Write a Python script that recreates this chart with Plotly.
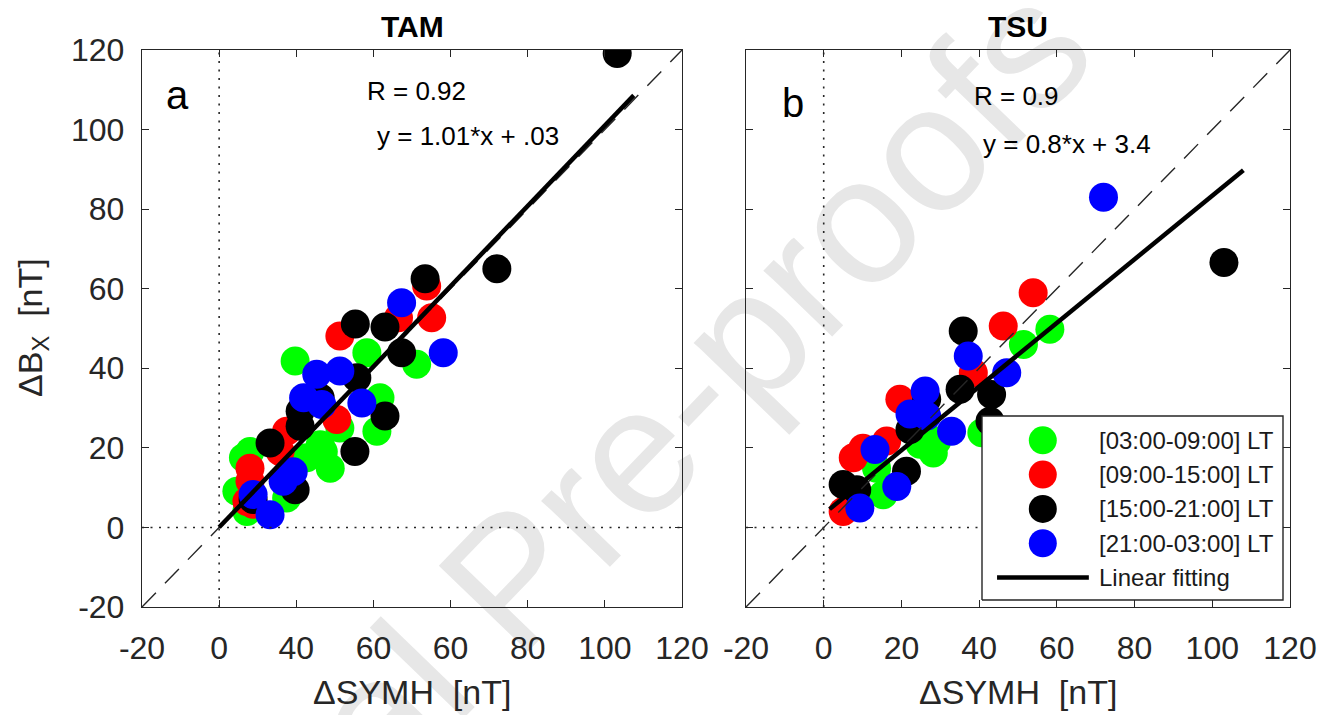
import plotly.graph_objects as go

FONT = "Liberation Sans, Arial, sans-serif"
INK = "#262626"
W, H = 1336, 715

# ---------------- data ----------------
# Panel a : TAM
tam_green_x = [19.7, 38.3, 51.2, 41.7, 40.9, 28.8, 26.2, 22.7, 8.0, 6.3, 4.6, 7.2, 17.5, 31.3, 27.0]
tam_green_y = [41.8, 43.9, 41.0, 32.6, 24.2, 14.9, 20.8, 17.5, 19.1, 17.5, 9.1, 4.0, 7.4, 25.0, 19.0]
tam_red_x = [53.8, 55.1, 46.5, 31.3, 30.5, 15.8, 8.0, 8.0, 7.2, 8.8, 17.5]
tam_red_y = [60.7, 52.7, 52.7, 48.1, 27.1, 19.1, 14.9, 11.6, 6.5, 5.8, 24.2]
tam_black_x = [103.2, 72.0, 53.4, 35.3, 43.0, 47.3, 35.7, 26.2, 21.0, 21.0, 43.0, 35.2, 13.2, 19.7, 8.8]
tam_black_y = [119.1, 65.0, 62.5, 51.1, 50.4, 43.9, 37.6, 32.6, 29.2, 25.4, 28.0, 19.1, 21.2, 9.5, 7.0]
tam_blue_x = [47.3, 58.1, 25.3, 31.3, 21.9, 26.6, 37.0, 16.6, 13.2, 8.8, 19.2]
tam_blue_y = [56.5, 43.9, 38.5, 39.3, 32.6, 30.9, 31.3, 11.6, 3.2, 8.3, 14.0]

# Panel b : TSU
tsu_green_x = [58.2, 51.4, 40.7, 28.2, 29.1, 24.8, 15.3, 13.6]
tsu_green_y = [49.8, 46.0, 23.8, 18.7, 21.7, 20.9, 8.2, 14.9]
tsu_red_x = [53.9, 46.2, 38.5, 19.6, 16.2, 7.6, 5.0, 10.1]
tsu_red_y = [59.0, 50.6, 38.9, 32.2, 21.7, 17.5, 4.0, 19.9]
tsu_black_x = [103.0, 35.9, 35.1, 43.2, 42.8, 26.5, 22.2, 21.3, 5.0, 8.5]
tsu_black_y = [66.6, 49.4, 34.7, 33.4, 26.7, 32.2, 24.6, 14.1, 10.8, 9.5]
tsu_blue_x = [72.0, 37.2, 47.1, 26.1, 26.5, 32.9, 13.2, 18.8, 9.3, 22.2]
tsu_blue_y = [83.0, 43.1, 38.9, 34.3, 28.0, 24.2, 19.6, 10.3, 4.9, 28.5]

# linear fits (slope, intercept, x-start, x-end)
fit_a = (1.01, 0.03, 0.0, 107.5)
fit_b = (0.8, 3.4, 1.5, 108.0)

tick_vals = [-20, 0, 20, 40, 60, 80, 100, 120]
tick_text_a = ["-20", "0", "40", "60", "60", "80", "100", "120"]
tick_text_b = ["-20", "0", "20", "40", "60", "80", "100", "120"]
tick_text_y = ["-20", "0", "20", "40", "60", "80", "100", "120"]

group_labels = ["[03:00-09:00] LT", "[09:00-15:00] LT", "[15:00-21:00] LT", "[21:00-03:00] LT"]
group_colors = ["#00ff00", "#ff0000", "#000000", "#0000ff"]
fit_label = "Linear fitting"

panels = [
    dict(name="TAM", letter="a", xa="x", ya="y",
         groups=[(tam_green_x, tam_green_y), (tam_red_x, tam_red_y),
                 (tam_black_x, tam_black_y), (tam_blue_x, tam_blue_y)],
         fit=fit_a, rtxt="R = 0.92", eq="y = 1.01*x + .03"),
    dict(name="TSU", letter="b", xa="x2", ya="y2",
         groups=[(tsu_green_x, tsu_green_y), (tsu_red_x, tsu_red_y),
                 (tsu_black_x, tsu_black_y), (tsu_blue_x, tsu_blue_y)],
         fit=fit_b, rtxt="R = 0.9", eq="y = 0.8*x + 3.4"),
]

# ---------------- layout geometry (pixels) ----------------
pa_x = (142, 682)
pb_x = (746, 1290)
p_y = (50, 607)  # top, bottom


def px_x(p):
    return p / W


def px_y(p):
    return 1 - p / H


fig = go.Figure()
MSIZE = 29

for pn in panels:
    for (gx, gy), col in zip(pn["groups"], group_colors):
        fig.add_trace(go.Scatter(x=gx, y=gy, mode="markers", xaxis=pn["xa"], yaxis=pn["ya"],
                                 marker=dict(size=MSIZE, color=col, line=dict(width=0)),
                                 showlegend=False, hoverinfo="skip"))
    # zero dotted lines
    fig.add_trace(go.Scatter(x=[0, 0], y=[tick_vals[0], tick_vals[-1]], mode="lines",
                             xaxis=pn["xa"], yaxis=pn["ya"],
                             line=dict(color=INK, width=1.6, dash="2px,6.5px"),
                             showlegend=False, hoverinfo="skip"))
    fig.add_trace(go.Scatter(x=[tick_vals[0], tick_vals[-1]], y=[0, 0], mode="lines",
                             xaxis=pn["xa"], yaxis=pn["ya"],
                             line=dict(color=INK, width=1.6, dash="2px,6.5px"),
                             showlegend=False, hoverinfo="skip"))
    # 1:1 dashed line
    fig.add_trace(go.Scatter(x=[tick_vals[0], tick_vals[-1]], y=[tick_vals[0], tick_vals[-1]],
                             mode="lines", xaxis=pn["xa"], yaxis=pn["ya"],
                             line=dict(color=INK, width=1.4, dash="20px,13px"),
                             showlegend=False, hoverinfo="skip"))
    s, b, x0, x1 = pn["fit"]
    fig.add_trace(go.Scatter(x=[x0, x1], y=[s * x0 + b, s * x1 + b], mode="lines",
                             xaxis=pn["xa"], yaxis=pn["ya"],
                             line=dict(color="#000000", width=4.5),
                             showlegend=False, hoverinfo="skip"))

# ---------------- custom legend (own axes) ----------------
LB = dict(l=982, r=1283, t=416, b=600)
pad = 4
lw = LB["r"] - LB["l"]
lh = LB["b"] - LB["t"]
fig.add_trace(go.Scatter(x=[0, 1, 1, 0, 0], y=[0, 0, 1, 1, 0], mode="lines", fill="toself",
                         fillcolor="white", line=dict(color=INK, width=1.4),
                         xaxis="x3", yaxis="y3", showlegend=False, hoverinfo="skip"))
row_top = 0.868
row_step = 0.1865
mk_x = 0.202
txt_x = 0.382
for i, (lab, col) in enumerate(zip(group_labels, group_colors)):
    ry = row_top - i * row_step
    fig.add_trace(go.Scatter(x=[mk_x], y=[ry], mode="markers", xaxis="x3", yaxis="y3",
                             marker=dict(size=28, color=col, line=dict(width=0)),
                             showlegend=False, hoverinfo="skip"))
    fig.add_annotation(x=txt_x, y=ry, xref="x3", yref="y3", text=lab, showarrow=False,
                       xanchor="left", yanchor="middle",
                       font=dict(family=FONT, size=24, color="#1a1a1a"))
ry = row_top - len(group_labels) * row_step
fig.add_trace(go.Scatter(x=[0.05, 0.355], y=[ry, ry], mode="lines", xaxis="x3", yaxis="y3",
                         line=dict(color="#000000", width=4.5),
                         showlegend=False, hoverinfo="skip"))
fig.add_annotation(x=txt_x, y=ry, xref="x3", yref="y3", text=fit_label, showarrow=False,
                   xanchor="left", yanchor="middle",
                   font=dict(family=FONT, size=24, color="#1a1a1a"))

# ---------------- axes ----------------
common = dict(range=[tick_vals[0], tick_vals[-1]], tickvals=tick_vals, ticks="inside",
              ticklen=7, tickwidth=1.3, tickcolor=INK, showline=True, linecolor=INK,
              linewidth=1.4, mirror="ticks", showgrid=False, zeroline=False, automargin=False,
              tickfont=dict(family=FONT, size=32, color=INK))
ydom = [px_y(p_y[1]), px_y(p_y[0])]
fig.update_layout(
    xaxis=dict(domain=[px_x(pa_x[0]), px_x(pa_x[1])], anchor="y", ticktext=tick_text_a,
               ticklabelstandoff=12, **common),
    yaxis=dict(domain=ydom, anchor="x", ticktext=tick_text_y, ticklabelstandoff=10, **common),
    xaxis2=dict(domain=[px_x(pb_x[0]), px_x(pb_x[1])], anchor="y2", ticktext=tick_text_b,
                ticklabelstandoff=12, **common),
    yaxis2=dict(domain=ydom, anchor="x2", showticklabels=False, **common),
    xaxis3=dict(domain=[px_x(LB["l"] - pad), px_x(LB["r"] + pad)], anchor="y3",
                range=[-pad / lw, 1 + pad / lw], visible=False, fixedrange=True,
                automargin=False),
    yaxis3=dict(domain=[px_y(LB["b"] + pad), px_y(LB["t"] - pad)], anchor="x3",
                range=[-pad / lh, 1 + pad / lh], visible=False, fixedrange=True,
                automargin=False),
)


def note(x, y, text, size, color="#000000", angle=0):
    fig.add_annotation(x=px_x(x), y=px_y(y), xref="paper", yref="paper", text=text,
                       showarrow=False, xanchor="center", yanchor="middle", textangle=angle,
                       font=dict(family=FONT, size=size, color=color))


# ---------------- text ----------------
centers = [(pa_x[0] + pa_x[1]) / 2, (pb_x[0] + pb_x[1]) / 2]
for pn, cx in zip(panels, centers):
    note(cx, 26, "<b>%s</b>" % pn["name"], 30)
    note(cx, 692, "\u0394SYMH\u00a0\u00a0[nT]", 34, INK)

note(32, 328, "\u0394B<sub>X</sub>\u00a0\u00a0[nT]", 34, INK, angle=-90)

note(177, 95, "a", 40)
note(793, 103, "b", 40)

note(416, 91, panels[0]["rtxt"], 26)
note(468, 136, panels[0]["eq"], 26)
note(1016, 96, panels[1]["rtxt"], 26)
note(1067, 144, panels[1]["eq"], 26)

# watermark (behind everything)
wcx, wcy = 530, 535
fig.add_shape(type="rect", xref="paper", yref="paper",
              x0=px_x(wcx - 5), x1=px_x(wcx + 5), y0=px_y(wcy + 5), y1=px_y(wcy - 5),
              line=dict(width=0), fillcolor="rgba(0,0,0,0)", layer="below",
              label=dict(text="Journal Pre-proofs", textangle=-46, textposition="middle center",
                         font=dict(family=FONT, size=180, color="#e7e7e7")))

fig.update_layout(width=W, height=H,
                  margin=dict(l=0, r=0, t=0, b=0, pad=0, autoexpand=False),
                  paper_bgcolor="white", plot_bgcolor="rgba(0,0,0,0)", showlegend=False)

fig.write_html("out.html")
